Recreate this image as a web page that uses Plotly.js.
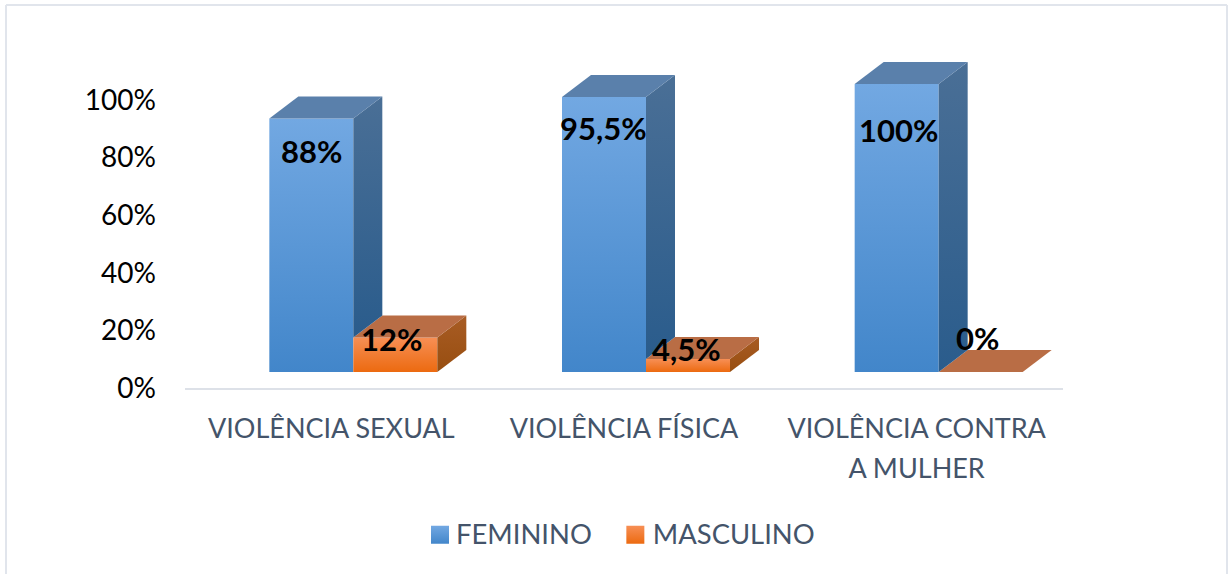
<!DOCTYPE html>
<html><head><meta charset="utf-8">
<script src="https://cdn.plot.ly/plotly-3.0.1.min.js"></script>
<style>html,body{margin:0;padding:0;background:#fff}#c{width:1229px;height:574px}</style></head>
<body><div id="c"></div>
<script>
const categories = ["VIOLÊNCIA SEXUAL", "VIOLÊNCIA FÍSICA", "VIOLÊNCIA CONTRA<br>A MULHER"];
const feminino = [88, 95.5, 100];
const masculino = [12, 4.5, 0];
const femLabels = ["88%", "95,5%", "100%"];
const masLabels = ["12%", "4,5%", "0%"];
const yTicks = [0, 20, 40, 60, 80, 100];
const yTickText = ["0%", "20%", "40%", "60%", "80%", "100%"];
const femLabelShift = [[0, -32], [-1, -31], [2, -46]];
const masLabelShift = [[-4, -2], [-2, 10], [-3, 34]];

const W = 1229, H = 574, mL = 185, mR = 166, mT = 40, mB = 186;
const unitX = (W - mL - mR) / 3, unitY = 2.88;
const floor = 16 / unitY, barW = 84 / unitX, groupShift = 22 / unitX;
const depthX = 29 / unitX, depthY = 22 / unitY;
const centers = categories.map((_, i) => i + 0.5);
const pos = centers.map(c => c + groupShift);
const FONT = "Lato, sans-serif", INK = "#44546a";

function poly(xs, ys, c0, c1) {
  const t = {x: xs, y: ys, type: "scatter", mode: "lines", fill: "toself",
    line: {width: 0}, showlegend: false, hoverinfo: "skip"};
  if (c1) t.fillgradient = {type: "vertical", colorscale: [[0, c1], [1, c0]]};
  else t.fillcolor = c0;
  return t;
}
const traces = [
  {type: "bar", name: "FEMININO", x: pos, y: feminino, base: floor, width: barW, offset: -barW,
   marker: {color: "#5b9bd5", line: {width: 0}}, hoverinfo: "skip"},
  {type: "bar", name: "MASCULINO", x: pos, y: masculino, base: floor, width: barW, offset: 0,
   marker: {color: "#f47c2c", line: {width: 0}}, hoverinfo: "skip"}
];
pos.forEach((p, i) => {
  const fTop = floor + feminino[i], mTop = floor + masculino[i];
  if (masculino[i] > 0) traces.push(poly(
    [p + barW, p + barW + depthX, p + barW + depthX, p + barW],
    [mTop, mTop + depthY, floor + depthY, floor], "#a85c24", "#984e10"));
  traces.push(poly([p, p + barW, p + barW + depthX, p + depthX],
    [mTop, mTop, mTop + depthY, mTop + depthY], "#b96d45"));
  traces.push(poly([p, p + depthX, p + depthX, p],
    [fTop, fTop + depthY, mTop + depthY, mTop], "#4a6f96", "#2a5c8c"));
  traces.push(poly([p - barW, p, p + depthX, p - barW + depthX],
    [fTop, fTop, fTop + depthY, fTop + depthY], "#5a80ab"));
});
const ann = [];
pos.forEach((p, i) => {
  ann.push({x: p - barW / 2, y: floor + feminino[i], text: "<b>" + femLabels[i] + "</b>", showarrow: false,
    xshift: femLabelShift[i][0], yshift: femLabelShift[i][1]});
  ann.push({x: p + barW / 2, y: floor + masculino[i], text: "<b>" + masLabels[i] + "</b>", showarrow: false,
    xshift: masLabelShift[i][0], yshift: masLabelShift[i][1]});
});
ann.forEach(a => { a.font = {family: FONT, size: 31, color: "#000"}; a.xanchor = "center"; a.yanchor = "middle"; });

const px = v => (v - mL) / (W - mL - mR), py = v => 1 - (v - mT) / (H - mT - mB);
const border = [[6, 5, 1227, 5], [6, 5, 6, 574], [1227, 5, 1227, 574]].map(l => ({
  type: "line", xref: "paper", yref: "paper", x0: px(l[0]), y0: py(l[1]), x1: px(l[2]), y1: py(l[3]),
  line: {color: "#e1e5ec", width: 2}}));

const layout = {
  width: W, height: H, margin: {l: mL, r: mR, t: mT, b: mB, pad: 0},
  paper_bgcolor: "#fff", plot_bgcolor: "#fff", barmode: "overlay",
  font: {family: FONT},
  xaxis: {range: [0, 3], tickmode: "array", tickvals: centers, ticktext: categories, showgrid: false, zeroline: false,
    showline: true, linecolor: "#dde1e8", linewidth: 2, ticks: "", ticklabelstandoff: 16, tickangle: 0,
    tickfont: {family: FONT, size: 27, color: INK}, fixedrange: true},
  yaxis: {range: [0, (H - mT - mB) / unitY], tickmode: "array", tickvals: yTicks, ticktext: yTickText, showgrid: false,
    zeroline: false, showline: false, ticks: "", ticklabelstandoff: 28,
    tickfont: {family: FONT, size: 28, color: "#000"}, fixedrange: true},
  legend: {orientation: "h", xref: "paper", yref: "paper", x: px(622), xanchor: "center", y: py(534), yanchor: "middle",
    font: {family: FONT, size: 27.4, color: INK}, bgcolor: "rgba(0,0,0,0)", itemclick: false, itemdoubleclick: false},
  shapes: border, annotations: ann, showlegend: true
};
Plotly.newPlot("c", traces, layout, {displayModeBar: false, staticPlot: true}).then(gd => {
  const svg = gd.querySelector(".main-svg");
  const NS = "http://www.w3.org/2000/svg";
  const defs = svg.querySelector("defs") || svg.insertBefore(document.createElementNS(NS, "defs"), svg.firstChild);
  const grad = (id, a, b) => {
    const g = document.createElementNS(NS, "linearGradient");
    g.setAttribute("id", id); g.setAttribute("x1", "0"); g.setAttribute("y1", "0"); g.setAttribute("x2", "0"); g.setAttribute("y2", "1");
    [[0, a], [1, b]].forEach(s => { const e = document.createElementNS(NS, "stop");
      e.setAttribute("offset", s[0]); e.setAttribute("stop-color", s[1]); g.appendChild(e); });
    defs.appendChild(g);
  };
  grad("gFem", "#72a8e2", "#4286ca"); grad("gMas", "#f78f55", "#ec6a10");
  const ids = ["gFem", "gMas"];
  gd.querySelectorAll(".barlayer .trace.bars").forEach((t, i) =>
    t.querySelectorAll("path").forEach(p => { p.style.fill = "url(#" + ids[i] + ")"; }));
  const swatchShift = [-8, 6.5], textShift = [-12, 4];
  gd.querySelectorAll(".legend .traces").forEach((t, i) => {
    const p = t.querySelector(".legendpoints path");
    if (p) { p.style.fill = "url(#" + ids[i] + ")";
      const s = swatchShift[i];
      p.setAttribute("d", `M${9 + s},10H${-9 + s}V-8H${9 + s}Z`); }
    const txt = t.querySelector("text.legendtext");
    if (txt) txt.setAttribute("x", parseFloat(txt.getAttribute("x")) + textShift[i]);
  });
  gd.querySelectorAll(".xtick text tspan.line").forEach((s, i) => { if (i > 0) s.setAttribute("dy", "40"); });
});
</script></body></html>
